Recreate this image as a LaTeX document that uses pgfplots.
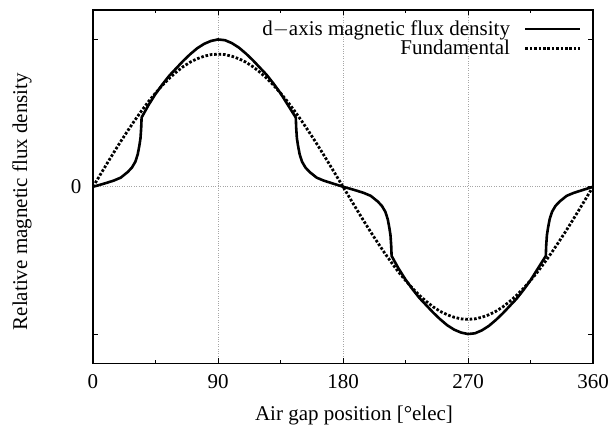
\documentclass[border=0pt]{standalone}
\usepackage{fontspec}
\setmainfont{Liberation Serif}
\usepackage{pgfplots}
\pgfplotsset{compat=1.18}
\newcommand{\bigfont}{\fontsize{21}{25}\selectfont}

\begin{document}
\begin{tikzpicture}
\begin{axis}[
    scale only axis,
    width=500pt, height=353.5pt,
    xmin=0, xmax=360, ymin=-1.2, ymax=1.2,
    axis line style={line width=1.4pt},
    tick align=inside,
    major tick length=5pt, minor tick length=3pt,
    every tick/.style={line width=1pt, black},
    xtick={0,90,180,270,360},
    minor x tick num=1,
    ytick={0},
    extra y ticks={-1,1},
    extra y tick labels={},
    extra y tick style={grid=none},
    xmajorgrids, ymajorgrids,
    grid style={dotted, gray!70, line width=0.5pt},
    /pgf/number format/assume math mode=true,
    tick label style={font=\bigfont},
    xticklabel style={yshift=-8pt},
    yticklabel style={xshift=-8pt},
    xlabel={Air gap position [°elec]},
    ylabel={Relative magnetic flux density},
    label style={font=\bigfont},
    xlabel style={at={(axis description cs:0.522,-0.147)}, anchor=center},
    ylabel style={at={(axis description cs:-0.142,0.458)}, anchor=center, rotate=0},
    legend style={draw=none, fill=none, at={(0.978,0.975)}, anchor=north east,
        inner sep=0pt, row sep=-1pt, column sep=12pt, font=\bigfont,
        nodes={inner sep=2pt}},
    legend plot pos=right,
    legend cell align=right,
    legend image code/.code={\draw[#1] (0pt,0pt) -- (55pt,0pt);},
]
\addplot[black, line width=2.6pt, line join=round] coordinates {
  (0,0) (5,0.013) (10,0.027) (15,0.042) (20,0.062) (25,0.10) (28,0.13)
  (30.5,0.17) (32.2,0.22) (33.4,0.28) (34.2,0.33) (34.7,0.40) (35,0.47)
  (40,0.555) (45,0.63) (50,0.695) (55,0.755) (60,0.805) (65,0.855) (70,0.90)
  (75,0.94) (80,0.97) (85,0.99) (90,1.0) (95,0.995) (100,0.975) (105,0.945)
  (110,0.905) (115,0.86) (120,0.81) (125,0.76) (130,0.70) (135,0.635)
  (140,0.56) (146,0.47) (146.3,0.40) (146.8,0.33) (147.6,0.28) (148.8,0.22)
  (150.5,0.17) (153,0.13) (156,0.10) (161,0.062) (166,0.042) (171,0.027)
  (176,0.012) (180,0)
  (185,-0.013) (190,-0.027) (195,-0.042) (200,-0.062) (205,-0.10) (208,-0.13)
  (210.5,-0.17) (212.2,-0.22) (213.4,-0.28) (214.2,-0.33) (214.7,-0.40) (215,-0.47)
  (220,-0.555) (225,-0.63) (230,-0.695) (235,-0.755) (240,-0.805) (245,-0.855) (250,-0.90)
  (255,-0.94) (260,-0.97) (265,-0.99) (270,-1.0) (275,-0.995) (280,-0.975) (285,-0.945)
  (290,-0.905) (295,-0.86) (300,-0.81) (305,-0.76) (310,-0.70) (315,-0.635)
  (320,-0.56) (326,-0.47) (326.3,-0.40) (326.8,-0.33) (327.6,-0.28) (328.8,-0.22)
  (330.5,-0.17) (333,-0.13) (336,-0.10) (341,-0.062) (346,-0.042) (351,-0.027)
  (356,-0.012) (360,0)
};
\addlegendentry{d$-$axis magnetic flux density}

\addplot[black, line width=2.8pt, dash pattern=on 2.6pt off 1.8pt] coordinates {
  (0,0) (5,0.078) (10,0.156) (15,0.233) (20,0.308) (25,0.380) (30,0.450)
  (35,0.516) (40,0.579) (45,0.636) (50,0.689) (55,0.737) (60,0.779) (65,0.816)
  (70,0.846) (75,0.869) (80,0.886) (85,0.897) (90,0.900) (95,0.897) (100,0.886)
  (105,0.869) (110,0.846) (115,0.816) (120,0.779) (125,0.737) (130,0.689)
  (135,0.636) (140,0.579) (145,0.516) (150,0.450) (155,0.380) (160,0.308)
  (165,0.233) (170,0.156) (175,0.078) (180,0)
  (185,-0.078) (190,-0.156) (195,-0.233) (200,-0.308) (205,-0.380) (210,-0.450)
  (215,-0.516) (220,-0.579) (225,-0.636) (230,-0.689) (235,-0.737) (240,-0.779) (245,-0.816)
  (250,-0.846) (255,-0.869) (260,-0.886) (265,-0.897) (270,-0.900) (275,-0.897) (280,-0.886)
  (285,-0.869) (290,-0.846) (295,-0.816) (300,-0.779) (305,-0.737) (310,-0.689)
  (315,-0.636) (320,-0.579) (325,-0.516) (330,-0.450) (335,-0.380) (340,-0.308)
  (345,-0.233) (350,-0.156) (355,-0.078) (360,0)
};
\addlegendentry{Fundamental}
\end{axis}
\pgfresetboundingbox
\path[use as bounding box] (-93pt,-64pt) rectangle (517pt,363.5pt);
\end{tikzpicture}
\end{document}
